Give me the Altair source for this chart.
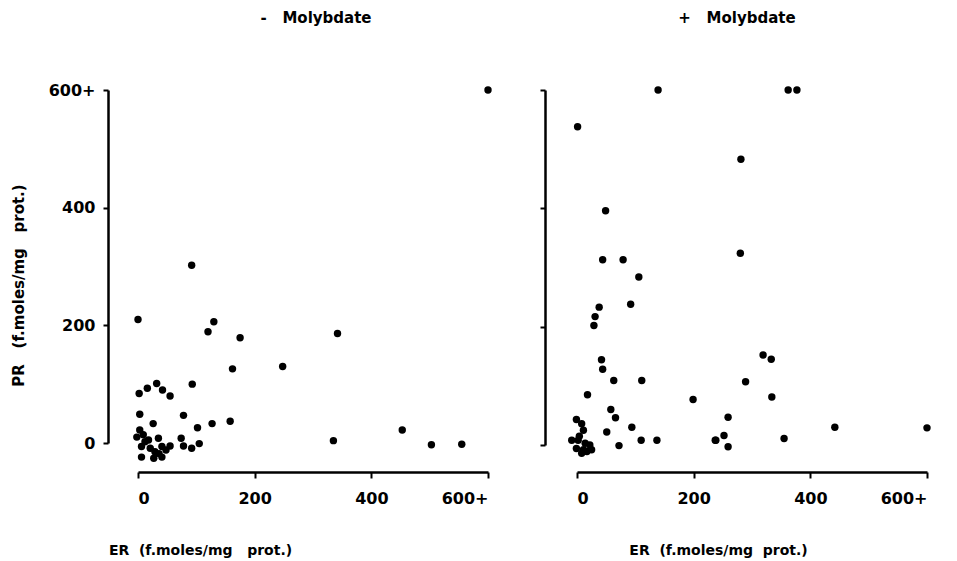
import altair as alt
import pandas as pd

# ---- data ----
left_er = [0, 92, 120, 130, 175, 162, 93, 2, 16, 32, 42, 55, 3, 26, 78, 102, 127, 158,
           342, 248, 335, 453, 503, 555, 600,
           3, -2, 9, 18, 6, 6, 21, 35, 29, 41, 27, 41, 55, 74, 78, 92, 105, 12, 36, 48]
left_pr = [210, 302, 189, 206, 179, 126, 100, 84, 93, 101, 90, 80, 49, 33, 47, 26, 33, 37,
           186, 130, 4, 22, -3, -2, 600,
           22, 10, 14, 5, -6, -24, -9, 8, -15, -24, -26, -6, -5, 8, -5, -9, -1, 2, -18, -12]

right_er = [139, 1, 49, 44, 79, 106, 92, 38, 31, 29, 42, 44, 63, 111, 18, 199, 58, 66, 51, 94,
            110, 137, 238, 72,
            362, 377, 281, 280, 319, 333, 289, 334, 259, 442, 600, 252, 237, 259, 355,
            -1, 8, 11, -9, 2, -1, 11, 22, 25, 14, 17, 8, 4]
right_pr = [600, 538, 396, 313, 313, 284, 238, 233, 217, 202, 144, 128, 109, 109, 85, 77, 60, 46, 22, 30,
            8, 8, 8, -1,
            600, 600, 483, 324, 152, 145, 107, 81, 47, 30, 29, 16, 8, -3, 11,
            43, 36, 25, 8, 8, -6, -8, 0, -8, 3, -11, -14, 15]

tick_values = [0, 200, 400, 600]
panel_titles = ["-\u00a0\u00a0\u00a0Molybdate", "+\u00a0\u00a0\u00a0Molybdate"]
x_titles = ["ER\u00a0\u00a0(f.moles/mg\u00a0\u00a0\u00a0prot.)", "ER\u00a0\u00a0(f.moles/mg\u00a0\u00a0prot.)"]
y_title = "PR\u00a0\u00a0\u00a0(f.moles/mg\u00a0\u00a0\u00a0prot.)"

FONT = "DejaVu Sans"
LABEL_EXPR = "datum.value == 600 ? '600+' : format(datum.value, 'd')"

AX = dict(grid=False, domain=True, domainColor="#000000", domainWidth=2.5,
          ticks=True, tickColor="#000000", tickWidth=2, zindex=1)


def panel(er, pr, title, title_dx, title_offset, xtitle, xtitle_x, x_offset, y_offset, height, show_y):
    df = pd.DataFrame({"ER": er, "PR": pr})
    x_axis = alt.Axis(
        values=tick_values, labelExpr=LABEL_EXPR, offset=x_offset, tickSize=6,
        labelPadding=12, labelFont=FONT, labelFontSize=16, labelFontWeight="bold",
        labelColor="black", title=xtitle, titleFont=FONT, titleFontSize=14,
        titleFontWeight="bold", titleColor="black", titleX=xtitle_x, titleY=78,
        titleAlign="center", titleBaseline="middle", titleAngle=0, **AX,
    )
    if show_y:
        y_axis = alt.Axis(
            values=tick_values, labelExpr=LABEL_EXPR, offset=y_offset, tickSize=5,
            labelPadding=8, labelFont=FONT, labelFontSize=16, labelFontWeight="bold",
            labelColor="black", title=y_title, titleFont=FONT, titleFontSize=15,
            titleFontWeight="bold", titleColor="black", titleX=-90, titleY=195,
            titleAlign="center", titleBaseline="middle", titleAngle=-90, **AX,
        )
    else:
        y_axis = alt.Axis(values=tick_values, labels=False, offset=y_offset, tickSize=5,
                          title=None, **AX)
    return alt.Chart(df).mark_circle(size=55, color="black", opacity=1).encode(
        x=alt.X("ER:Q", scale=alt.Scale(domain=[0, 600], nice=False, zero=False), axis=x_axis),
        y=alt.Y("PR:Q", scale=alt.Scale(domain=[0, 600], nice=False, zero=False), axis=y_axis),
    ).properties(
        width=350, height=height,
        title=alt.TitleParams(title, font=FONT, fontSize=15, fontWeight="bold", color="black",
                              anchor="middle", frame="group", dx=title_dx, offset=title_offset),
    )


left = panel(left_er, left_pr, panel_titles[0], 3, 56, x_titles[0], 62, 29, 30, 353, True)
right = panel(right_er, right_pr, panel_titles[1], -15, 60, x_titles[1], 141, 27, 32, 355, False)

chart = alt.hconcat(left, right, spacing=89, bounds="flush").properties(
    padding={"left": 3, "top": 3, "right": 5, "bottom": 5}
).configure(background="white").configure_view(stroke=None)

chart.save("out.html", embed_options={"renderer": "svg", "actions": False})
